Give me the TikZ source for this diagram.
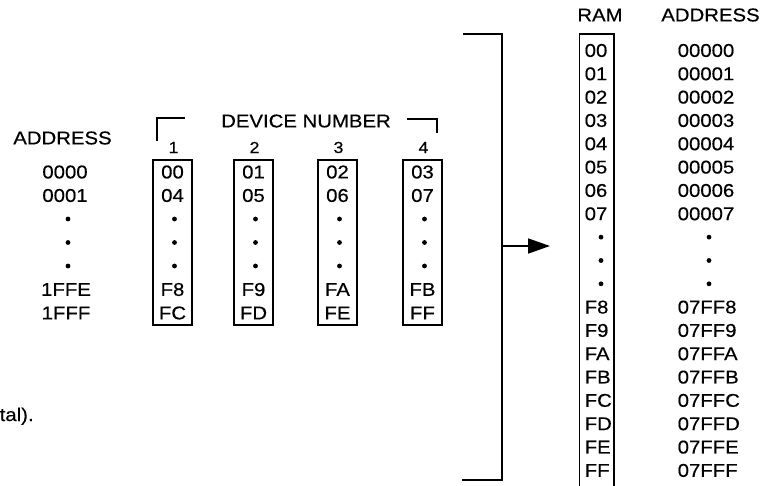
\documentclass[tikz,border=0pt]{standalone}
\usepackage{fontspec}
\setmainfont{Liberation Sans}[FakeStretch=1.1,FakeBold=0.4]
\usetikzlibrary{arrows.meta}
\begin{document}
\begin{tikzpicture}[x=1pt,y=-1pt,
  every node/.style={inner sep=0pt, font=\fontsize{18.5}{22}\selectfont},
  small/.style={font=\fontsize{16}{19}\selectfont},
  box/.style={draw, line width=1.8pt, rectangle, inner sep=0pt},
  dot/.style={circle, fill, inner sep=0pt, minimum size=4.8pt},
  ln/.style={line width=1.8pt},
  arr/.style={line width=1.8pt, -{Triangle[length=22pt,width=15pt]}},
]
\useasboundingbox (0,0) rectangle (773,485);

% left address column
\node (addrL) at (62.5,138) {ADDRESS};
\node (l0) at (65,172) {0000};
\node (l1) at (65,195.5) {0001};
\node[dot] (ld1) at (68,219) {};
\node[dot] (ld2) at (68,242.5) {};
\node[dot] (ld3) at (68,266) {};
\node (l5) at (66,289.5) {1FFE};
\node (l6) at (66,313) {1FFF};

% device number header
\node (devnum) at (306,121) {DEVICE NUMBER};
\draw[ln] (156.7,141) -- (156.7,118) -- (185,118);
\draw[ln] (407,119) -- (437,119) -- (437,133);

% device boxes
\foreach \k/\cx/\a/\b/\c/\d in {1/172.5/00/04/F8/FC, 2/253.5/01/05/F9/FD, 3/337.5/02/06/FA/FE, 4/422.5/03/07/FB/FF}{
  \node[small] (lab\k) at (\cx+1,147.5) {\k};
  \node[box, minimum width=38.5pt, minimum height=165pt] (dev\k) at (\cx,242.5) {};
  \node (d\k a) at (\cx,172) {\a};
  \node (d\k b) at (\cx,195.5) {\b};
  \node[dot] (d\k x) at (\cx+2,219) {};
  \node[dot] (d\k y) at (\cx+2,242.5) {};
  \node[dot] (d\k z) at (\cx+2,266) {};
  \node (d\k c) at (\cx,289.5) {\c};
  \node (d\k d) at (\cx,313) {\d};
}

% big bracket and arrow
\draw[ln] (463,34) -- (501.7,34) -- (501.7,480) -- (462,480);
\coordinate (brk) at (501.7,246);
\coordinate (arrowend) at (550,246);
\draw[arr] (brk) -- (arrowend);

% RAM column
\node (ramh) at (600,15) {RAM};
\node (addrR) at (710.5,15) {ADDRESS};
\node[box, line width=1.6pt, minimum width=34.7pt, minimum height=454pt] (ram) at (596.7,261) {};
\foreach \t/\a [count=\i from 0] in {00/00000,01/00001,02/00002,03/00003,04/00004,05/00005,06/00006,07/00007}{
  \node[anchor=west] (r\i) at (584.5,{50.5+23.33*\i}) {\t};
  \node[anchor=west] (a\i) at (677.5,{50.5+23.33*\i}) {\a};
}
\foreach \i in {8,9,10}{
  \node[dot] (rd\i) at (601,{50.5+23.33*\i}) {};
  \node[dot] (ad\i) at (709,{50.5+23.33*\i}) {};
}
\foreach \t/\a [count=\i from 11] in {F8/07FF8,F9/07FF9,FA/07FFA,FB/07FFB,FC/07FFC,FD/07FFD,FE/07FFE,FF/07FFF}{
  \node[anchor=west] (r\i) at (584.5,{50.5+23.33*\i}) {\t};
  \node[anchor=west] (a\i) at (677.5,{50.5+23.33*\i}) {\a};
}

% cut-off caption fragment
\node[anchor=base west] (cap) at (-0.5,421) {tal).};
\end{tikzpicture}
\end{document}
